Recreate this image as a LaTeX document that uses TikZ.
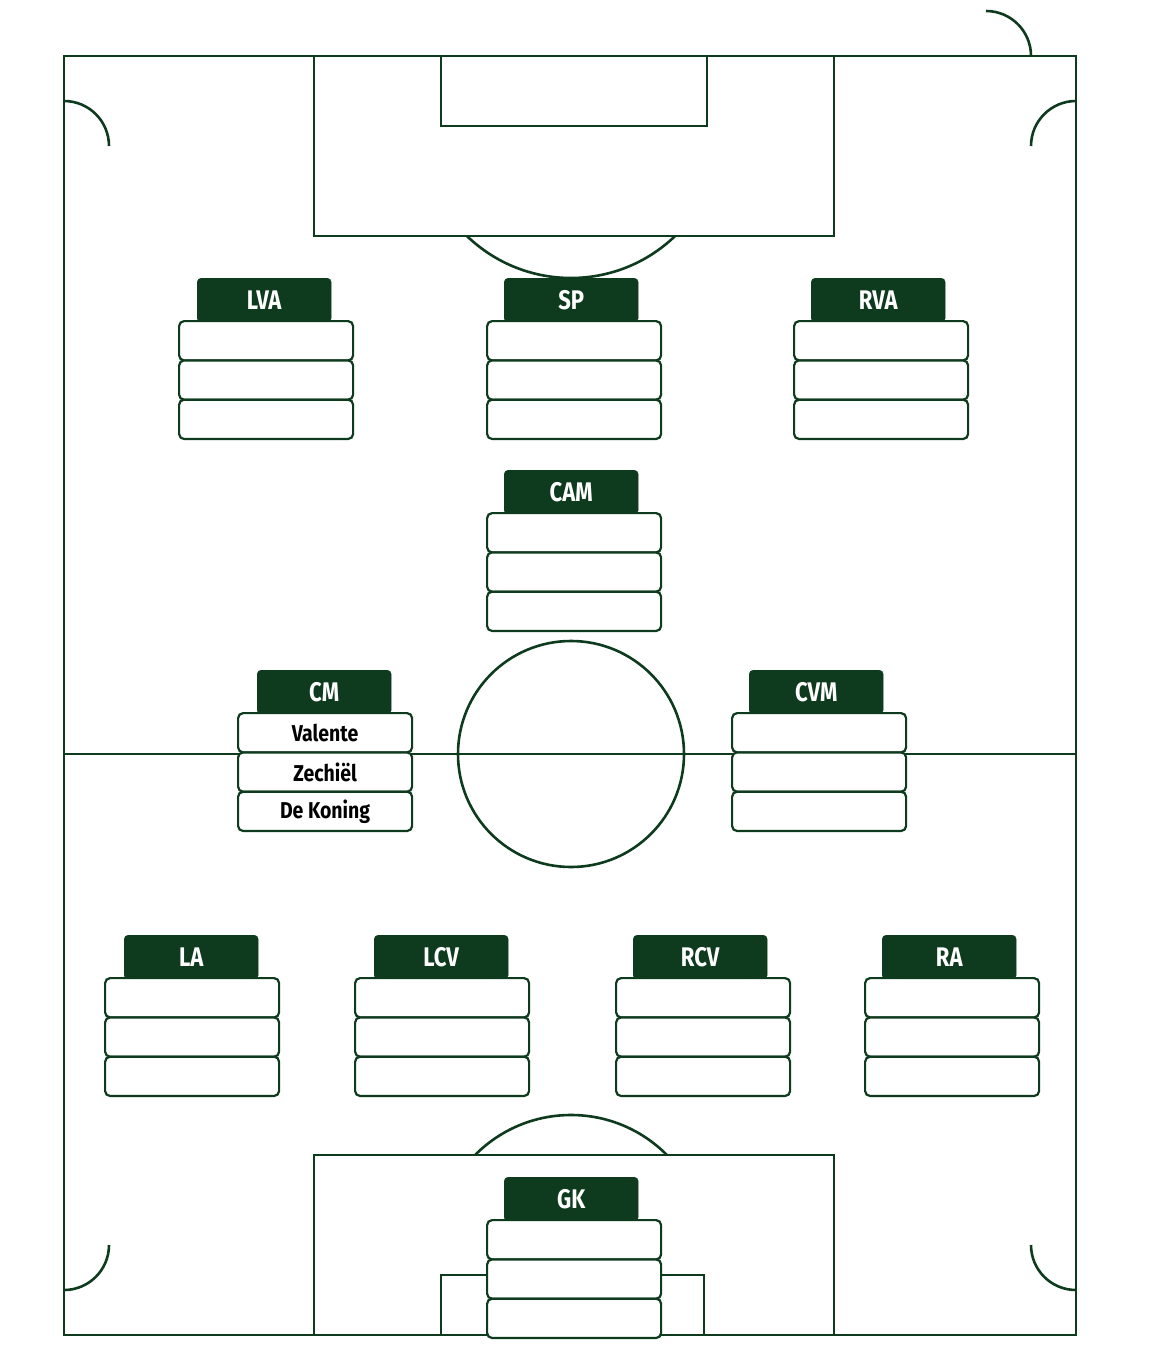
\documentclass[tikz,border=0pt]{standalone}
\usepackage{fontspec}
\setmainfont{Fira Sans}
\definecolor{fg}{HTML}{0E3B1E}
\tikzset{
 ln/.style={draw=fg,line width=2.6bp},
 tab/.style={fill=fg,draw=fg,rounded corners=4bp,minimum width=134bp,minimum height=44bp,anchor=north west,inner sep=0pt,text=white,font=\fontsize{27}{30}\selectfont\bfseries},
 row/.style={fill=white,draw=fg,line width=2.2bp,rounded corners=5bp,minimum width=174bp,minimum height=39.3bp,anchor=north west,inner sep=0pt,font=\fontsize{23}{26}\selectfont\bfseries},
}
\newcommand\card[8]{%
 \node[tab] (#1t) at (#2,#3) {\scalebox{0.82}[1]{#5}};
 \node[row] (#1a) at (#4,#3+42) {\scalebox{0.85}[1]{#6}};
 \node[row] (#1b) at (#4,#3+81.3) {\scalebox{0.85}[1]{#7}};
 \node[row] (#1c) at (#4,#3+120.6) {\scalebox{0.85}[1]{#8}};
}
\begin{document}
\begin{tikzpicture}[x=1bp,y=-1bp]
\useasboundingbox (0,0) rectangle (1149,1368);
\fill[white] (0,0) rectangle (1149,1368);
% field
\draw[ln] (64,56) rectangle (1076,1335);
\draw[ln] (64,754) -- (1076,754);
\draw[ln] (571,754) circle (113);
\draw[ln] (314,56) rectangle (834,236);
\draw[ln] (441,56) rectangle (707,126);
\draw[ln] (314,1335) rectangle (834,1155);
\draw[ln] (441,1335) rectangle (704,1275);
\begin{scope}
\clip (0,236) rectangle (1149,400);
\draw[ln] (571,128) circle (150);
\end{scope}
\begin{scope}
\clip (0,1000) rectangle (1149,1155);
\draw[ln] (571,1250) circle (135);
\end{scope}
\draw[ln] (64,101) arc (-90:0:45);
\draw[ln] (1031,56) arc (180:90:-45);
\draw[ln] (1076,101) arc (270:180:45);
\draw[ln] (64,1290) arc (90:0:45);
\draw[ln] (1076,1290) arc (90:180:45);
% cards
\card{lva}{197}{278}{178}{LVA}{}{}{}
\card{sp}{504}{278}{486}{SP}{}{}{}
\card{rva}{811}{278}{793}{RVA}{}{}{}
\card{cam}{504}{470}{486}{CAM}{}{}{}
\card{cm}{257}{670}{237}{CM}{Valente}{Zechiël}{De Koning}
\card{cvm}{749}{670}{731}{CVM}{}{}{}
\card{la}{124}{935}{104}{LA}{}{}{}
\card{lcv}{374}{935}{354}{LCV}{}{}{}
\card{rcv}{633}{935}{615}{RCV}{}{}{}
\card{ra}{882}{935}{864}{RA}{}{}{}
\card{gk}{504}{1177}{486}{GK}{}{}{}
\end{tikzpicture}
\end{document}
